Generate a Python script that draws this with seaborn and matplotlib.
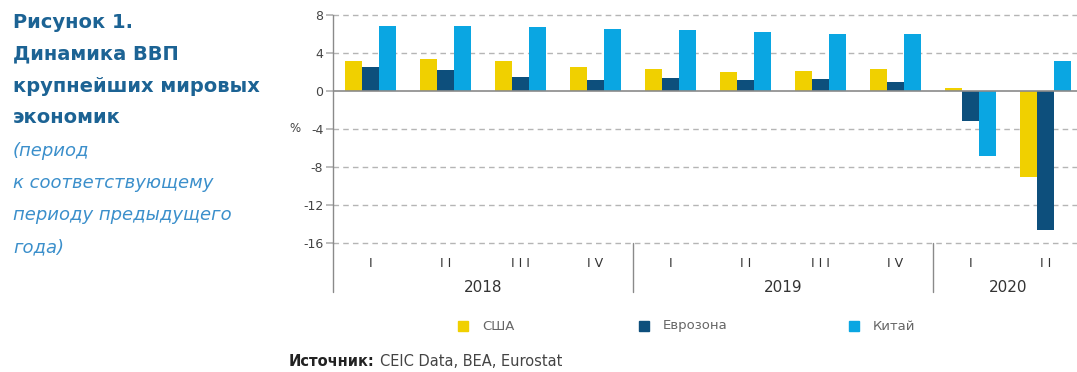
import matplotlib
matplotlib.use("Agg")
import matplotlib.pyplot as plt
import matplotlib.transforms as mtransforms
from matplotlib.patches import Rectangle
import pandas as pd
import seaborn as sns

# GDP growth, % year over year, by quarter
quarters = ["I", "I I", "I I I", "I V", "I", "I I", "I I I", "I V", "I", "I I"]
years = ["2018", "2019", "2020"]
year_quarter_counts = [4, 4, 2]
usa = [3.2, 3.4, 3.2, 2.5, 2.3, 2.0, 2.1, 2.3, 0.3, -9.1]
eurozone = [2.5, 2.2, 1.5, 1.2, 1.4, 1.2, 1.3, 1.0, -3.2, -14.6]
china = [6.8, 6.8, 6.7, 6.5, 6.4, 6.2, 6.0, 6.0, -6.8, 3.2]
series_names = ["США", "Еврозона", "Китай"]
series_colors = ["#f0d000", "#0d4f7c", "#0aa6e2"]
y_ticks = [8, 4, 0, -4, -8, -12, -16]

sns.set_theme(style="white")
plt.rcParams["font.family"] = ["DejaVu Sans"]

periods = [f"{i}" for i in range(len(quarters))]
df = pd.DataFrame({
    "period": periods * 3,
    "series": sum([[s] * len(periods) for s in series_names], []),
    "value": usa + eurozone + china,
})

W, H = 1077, 372
fig = plt.figure(figsize=(W / 100, H / 100), dpi=100)
# plot area: x 333..1083 px (last column runs slightly past the edge), y 15..243 px
ax = fig.add_axes([333 / W, 1 - 243 / H, 750 / W, 228 / H])

sns.barplot(data=df, x="period", y="value", hue="series", hue_order=series_names,
            palette=series_colors, order=periods, width=0.68, gap=0,
            saturation=1, linewidth=0, legend=False, ax=ax)

ax.set_ylim(-16, 8)
ax.set_xlim(-0.5, len(periods) - 0.5)
ax.set_yticks(y_ticks)
ax.set_yticklabels([str(t) for t in y_ticks], fontsize=9, color="#444444")
ax.set_xticks([])
ax.set_xlabel("")
ax.set_ylabel("")
for t in y_ticks:
    if t != 0:
        ax.axhline(t, color="#b5b5b5", lw=1.0, ls=(0, (4, 3)), zorder=0,
                   clip_on=False)
ax.axhline(0, color="#8a8a8a", lw=1.2, zorder=3)
for side in ["top", "right", "bottom"]:
    ax.spines[side].set_visible(False)
ax.spines["left"].set_color("#8a8a8a")
ax.spines["left"].set_linewidth(1.0)
ax.tick_params(axis="y", length=5, color="#b5b5b5", pad=2, left=True)
# unit label sits level with the -4 tick
ax.text(-0.043, 0.5, "%", transform=ax.transAxes, fontsize=8.5,
        color="#444444", ha="right", va="center")

# Quarter and year labels below the plot
trans = mtransforms.blended_transform_factory(ax.transData, ax.transAxes)
for i, q in enumerate(quarters):
    ax.text(i, -0.088, q, transform=trans, ha="center", va="center",
            fontsize=9, color="#333333")
start = 0
for yr, n in zip(years, year_quarter_counts):
    ax.plot([start - 0.5, start - 0.5], [0, -0.215], transform=trans,
            color="#8a8a8a", lw=1.0, clip_on=False)
    ax.text(start - 0.5 + n / 2, -0.193, yr, transform=trans, ha="center",
            va="center", fontsize=11, color="#333333")
    start += n

# Legend row
legend_y = 1 - 326 / H
for x_px, name, col in zip([458, 639, 849], series_names, series_colors):
    fig.patches.append(Rectangle((x_px / W, legend_y - 5 / H), 10 / W, 10 / H,
                                 transform=fig.transFigure, color=col))
    fig.text((x_px + 24) / W, legend_y, name, fontsize=9.5, color="#666666",
             va="center", ha="left")

# Source note
fig.text(289 / W, 1 - 362 / H, "Источник:", fontsize=10.5, fontweight="bold",
         color="#222222", va="center")
fig.text(380 / W, 1 - 362 / H, "CEIC Data, BEA, Eurostat", fontsize=10.5,
         color="#444444", va="center")

# Side caption
title_lines = ["Рисунок 1.", "Динамика ВВП", "крупнейших мировых", "экономик"]
note_lines = ["(период", "к соответствующему", "периоду предыдущего", "года)"]
for k, line in enumerate(title_lines):
    fig.text(13 / W, 1 - (22 + 32 * k) / H, line, fontsize=14,
             fontweight="bold", color="#1c6394", va="center")
for k, line in enumerate(note_lines):
    fig.text(13 / W, 1 - (151 + 32 * k) / H, line, fontsize=13,
             style="italic", color="#3b8fcb", va="center")

fig.savefig("out.png", dpi=100)
